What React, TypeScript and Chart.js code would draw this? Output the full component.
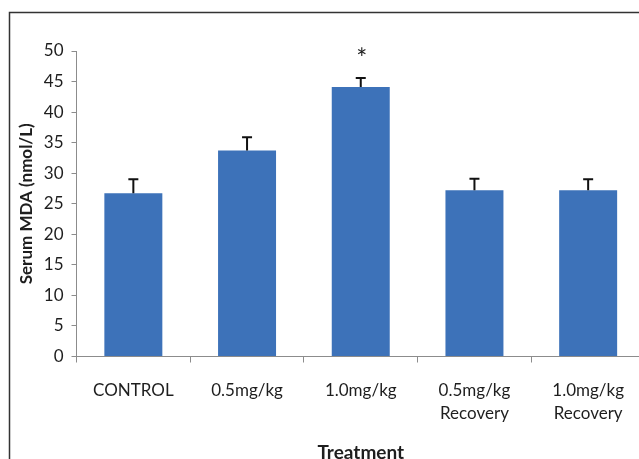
import React, { useEffect, useRef } from "react";
import { Chart, registerables } from "chart.js";

Chart.register(...registerables);

const categories: (string | string[])[] = [
  "CONTROL",
  "0.5mg/kg",
  "1.0mg/kg",
  ["0.5mg/kg", "Recovery"],
  ["1.0mg/kg", "Recovery"],
];
const meanValues = [26.7, 33.7, 44.1, 27.2, 27.2];
const errorValues = [2.3, 2.2, 1.5, 1.9, 1.8];
const significance = ["", "", "*", "", ""];
const yTicksMin = 0;
const yTicksMax = 50;
const yTicksStep = 5;

const CANVAS_W = 660;
const CANVAS_H = 475;
const PLOT_BOTTOM = 356.5;
const TEXT = "#1e1e1e";
const AXIS = "#8c8c8c";

const errorBarPlugin = {
  id: "errorBars",
  afterDatasetsDraw(chart: any) {
    const ctx = chart.ctx;
    const meta = chart.getDatasetMeta(0);
    const yScale = chart.scales.y;
    ctx.save();
    meta.data.forEach((bar: any, i: number) => {
      const x = bar.x;
      const yBar = yScale.getPixelForValue(meanValues[i]);
      const yTop = yScale.getPixelForValue(meanValues[i] + errorValues[i]);
      ctx.strokeStyle = "#111111";
      ctx.lineWidth = 2;
      ctx.beginPath();
      ctx.moveTo(x, yBar);
      ctx.lineTo(x, yTop);
      ctx.moveTo(x - 5, yTop);
      ctx.lineTo(x + 5, yTop);
      ctx.stroke();
      if (significance[i]) {
        ctx.fillStyle = TEXT;
        ctx.font = "26px Lato";
        ctx.textAlign = "center";
        ctx.textBaseline = "alphabetic";
        ctx.fillText(significance[i], x + 1, yTop - 10);
      }
    });
    ctx.restore();
  },
};

const framePlugin = {
  id: "frame",
  afterDraw(chart: any) {
    const ctx = chart.ctx;
    ctx.save();
    ctx.strokeStyle = "#333333";
    ctx.lineWidth = 1.5;
    ctx.beginPath();
    ctx.moveTo(9.5, CANVAS_H);
    ctx.lineTo(9.5, 12.5);
    ctx.lineTo(CANVAS_W, 12.5);
    ctx.stroke();
    ctx.restore();
  },
};

export default function App() {
  const ref = useRef<HTMLCanvasElement | null>(null);

  useEffect(() => {
    if (!ref.current) return;
    const chart = new Chart(ref.current, {
      type: "bar",
      data: {
        labels: categories,
        datasets: [
          {
            label: "Serum MDA",
            data: meanValues,
            backgroundColor: "#3d72b9",
            borderWidth: 0,
            categoryPercentage: 0.51,
            barPercentage: 1,
          },
        ],
      },
      options: {
        animation: false,
        responsive: false,
        devicePixelRatio: 1,
        layout: { padding: { top: 51, left: 0, right: 15, bottom: 0 } },
        plugins: {
          legend: { display: false },
          tooltip: { enabled: false },
        },
        scales: {
          x: {
            grid: {
              display: true,
              drawOnChartArea: false,
              drawTicks: true,
              tickLength: 6,
              color: AXIS,
              offset: true,
            },
            border: { color: AXIS, width: 1 },
            ticks: {
              color: TEXT,
              font: { family: "Lato", size: 17, lineHeight: 1.38 },
              padding: 16,
              maxRotation: 0,
              autoSkip: false,
            },
            title: {
              display: true,
              text: "Treatment",
              color: TEXT,
              font: { family: "Lato", size: 19, weight: "bold", lineHeight: 1.2 },
              padding: { top: 0, bottom: 11 },
            },
            afterFit: (scale: any) => {
              scale.height = CANVAS_H - PLOT_BOTTOM;
            },
          },
          y: {
            min: yTicksMin,
            max: yTicksMax,
            ticks: {
              stepSize: yTicksStep,
              color: TEXT,
              font: { family: "Lato", size: 17 },
              padding: 8,
            },
            grid: {
              display: true,
              drawOnChartArea: false,
              drawTicks: true,
              tickLength: 5,
              color: AXIS,
            },
            border: { color: AXIS, width: 1 },
            title: {
              display: true,
              text: "Serum MDA (nmol/L)",
              color: TEXT,
              font: { family: "Lato", size: 17, weight: "bold", lineHeight: 1.2 },
              padding: { top: 16, bottom: 0 },
            },
            afterFit: (scale: any) => {
              scale.width = 76.5;
            },
          },
        },
      },
      plugins: [errorBarPlugin, framePlugin],
    });
    return () => chart.destroy();
  }, []);

  return (
    <div
      style={{
        position: "fixed",
        left: 0,
        top: 0,
        width: 639,
        height: 459,
        overflow: "hidden",
        background: "#ffffff",
      }}
    >
      <canvas ref={ref} width={CANVAS_W} height={CANVAS_H} style={{ width: CANVAS_W, height: CANVAS_H, display: "block" }} />
    </div>
  );
}
